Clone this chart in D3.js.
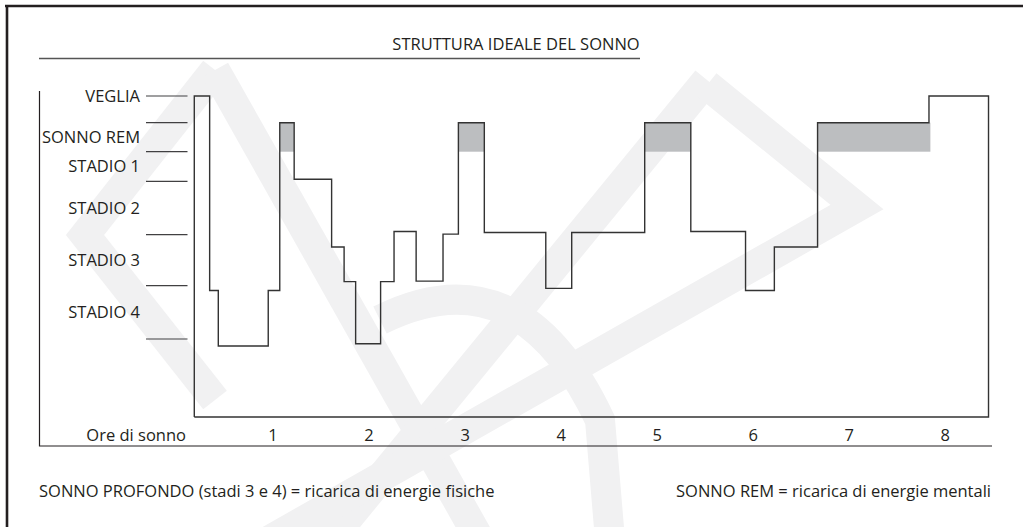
<!DOCTYPE html>
<html>
<head>
<meta charset="utf-8">
<script src="https://cdn.jsdelivr.net/npm/d3@7"></script>
<style>
  html, body { margin: 0; padding: 0; background: #fff; }
  svg text { font-family: "Open Sans", "Noto Sans", sans-serif; fill: #231f20; }
</style>
</head>
<body>
<div id="chart"></div>
<script>
// Stadi del sonno (etichette a sinistra) e confini tra gli stadi
const stageLabels = ["VEGLIA", "SONNO REM", "STADIO 1", "STADIO 2", "STADIO 3", "STADIO 4"];
const stageLabelPos = [0, 1.5, 2.5, 3.5, 4.5, 5.5];
const stageTicks = [0, 1, 2, 3, 4, 5, 6];

// Ore di sonno
const hourTicks = [1, 2, 3, 4, 5, 6, 7, 8];

// Ipnogramma: inizio (ore), fine (ore), profondità (in unità di stadio)
const segStart = [0.18, 0.34, 0.43, 0.95, 1.07, 1.22, 1.61, 1.74, 1.86, 2.12, 2.26, 2.49, 2.77, 2.93, 3.20, 3.84, 4.11, 4.87, 5.35, 5.92, 6.22, 6.67, 7.83];
const segEnd   = [0.34, 0.43, 0.95, 1.07, 1.22, 1.61, 1.74, 1.86, 2.12, 2.26, 2.49, 2.77, 2.93, 3.20, 3.84, 4.11, 4.87, 5.35, 5.92, 6.22, 6.67, 7.83, 8.45];
const segDepth = [0,    5.09, 6.09, 5.09, 1,    2.93, 4.24, 4.92, 6.06, 4.92, 3.94, 4.91, 3.99, 1,    3.96, 5.05, 3.96, 1,    3.94, 5.09, 4.24, 1,    0];

const title = "STRUTTURA IDEALE DEL SONNO";
const xTitle = "Ore di sonno";
const noteLeft = "SONNO PROFONDO (stadi 3 e 4) = ricarica di energie fisiche";
const noteRight = "SONNO REM = ricarica di energie mentali";

const W = 1023, H = 527;
const ink = "#231f20";
const fs = "16.5px";

const svg = d3.select("#chart").append("svg")
  .attr("width", W).attr("height", H);

// filigrana chiara sullo sfondo
const wm = svg.append("g")
  .attr("fill", "none")
  .attr("stroke", "#f1f1f2")
  .attr("stroke-width", 30)
  .attr("stroke-linejoin", "miter");
wm.append("path").attr("d", "M215,70 L85,235 L215,400");
wm.append("path").attr("d", "M215,70 L480,540");
wm.append("path").attr("d", "M707,80 L330,540");
wm.append("path").attr("d", "M707,85 L857,207 L270,540");
wm.append("path").attr("d", "M380,320 Q520,250 600,420 L610,540");

// scale
const x = d3.scaleLinear().domain([0, 8]).range([177, 945.3]);
const y = d3.scaleLinear()
  .domain([0, 1, 2, 3, 4, 5, 6, 7])
  .range([96, 122.7, 151.7, 181.3, 234.7, 285.7, 339, 417]);
const base = 7;

// cornice
svg.append("line").attr("x1", 5).attr("x2", W).attr("y1", 6).attr("y2", 6)
  .attr("stroke", ink).attr("stroke-width", 2.6);
svg.append("line").attr("x1", 7).attr("x2", 7).attr("y1", 5).attr("y2", H)
  .attr("stroke", ink).attr("stroke-width", 2.6);

// titolo
svg.append("text")
  .attr("x", 516).attr("y", 49.5)
  .attr("text-anchor", "middle")
  .attr("font-size", fs)
  .text(title);
svg.append("line").attr("x1", 39).attr("x2", 640).attr("y1", 58.5).attr("y2", 58.5)
  .attr("stroke", "#555").attr("stroke-width", 1.3);

// riquadro esterno (sinistra + sotto)
svg.append("path")
  .attr("d", "M39.5,91 L39.5,446 L992,446")
  .attr("fill", "none").attr("stroke", ink).attr("stroke-width", 1.2);

// tacche degli stadi
svg.append("g").selectAll("line")
  .data(stageTicks).enter().append("line")
  .attr("x1", 146).attr("x2", 187.5)
  .attr("y1", d => y(d)).attr("y2", d => y(d))
  .attr("stroke", "#414042").attr("stroke-width", 1.2);

svg.append("g").selectAll("text")
  .data(stageLabels).enter().append("text")
  .attr("x", 140)
  .attr("y", (d, i) => y(stageLabelPos[i]))
  .attr("dy", "0.36em")
  .attr("text-anchor", "end")
  .attr("font-size", fs)
  .text(d => d);

// ore
svg.append("g").selectAll("text")
  .data(hourTicks).enter().append("text")
  .attr("x", d => x(d))
  .attr("y", 441)
  .attr("text-anchor", "middle")
  .attr("font-size", fs)
  .text(d => d);

svg.append("text")
  .attr("x", 186).attr("y", 441)
  .attr("text-anchor", "end")
  .attr("font-size", fs)
  .text(xTitle);

// fasce REM
const segs = segStart.map((s, i) => ({ s, e: segEnd[i], d: segDepth[i] }));
svg.append("g").selectAll("rect")
  .data(segs.filter(d => d.d === 1)).enter().append("rect")
  .attr("x", d => x(d.s))
  .attr("width", d => x(d.e) - x(d.s) + (d.e > 7 ? 1.4 : 0))
  .attr("y", y(1))
  .attr("height", y(2) - y(1))
  .attr("fill", "#bcbec0");

// ipnogramma a gradini
const pts = [{ t: segs[0].s, d: base }]
  .concat(segs.map(d => ({ t: d.s, d: d.d })))
  .concat([{ t: segs[segs.length - 1].e, d: segs[segs.length - 1].d },
           { t: segs[segs.length - 1].e, d: base },
           { t: segs[0].s, d: base }]);

const step = d3.line()
  .x(d => x(d.t))
  .y(d => y(d.d))
  .curve(d3.curveStepAfter);

svg.append("path")
  .attr("d", step(pts))
  .attr("fill", "none")
  .attr("stroke", "#333")
  .attr("stroke-width", 1.4);

// note in basso
svg.append("text")
  .attr("x", 39).attr("y", 497)
  .attr("font-size", fs)
  .text(noteLeft);
svg.append("text")
  .attr("x", 991).attr("y", 497)
  .attr("text-anchor", "end")
  .attr("font-size", fs)
  .text(noteRight);
</script>
</body>
</html>
